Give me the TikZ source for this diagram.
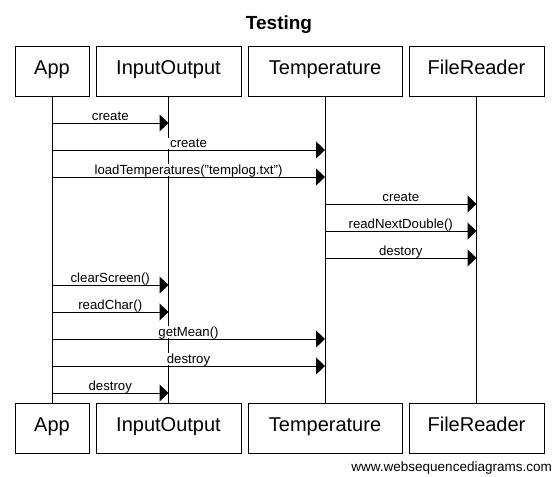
\documentclass[tikz,border=0pt]{standalone}
\usepackage{fontspec}
\setmainfont{Liberation Sans}
\usetikzlibrary{arrows.meta}
\begin{document}
\begin{tikzpicture}[x=1pt,y=-1pt]
    \tikzstyle{obj}=[draw,line width=1pt,inner sep=0pt,minimum height=50pt,font=\fontsize{20}{24}\selectfont,text height=0.72em,text depth=0.15em]
    \tikzstyle{life}=[line width=1pt]
    \tikzstyle{msg}=[line width=1pt,-{Triangle[length=9pt,width=17pt]}]
    \tikzstyle{lbl}=[anchor=base,yshift=2.5pt,fill=white,inner xsep=2.5pt,inner ysep=1pt,text depth=0pt,font=\fontsize{13.2}{15}\selectfont]
    \useasboundingbox (0,0) rectangle (556,476);
    \node[anchor=base,inner sep=0pt,font=\bfseries\fontsize{19}{22}\selectfont] (title) at (279,30) {Testing};
    \node[obj,minimum width=74pt] (appT) at (52,72) {App};
    \node[obj,minimum width=145pt] (ioT) at (168.5,72) {InputOutput};
    \node[obj,minimum width=154pt] (tempT) at (325,72) {Temperature};
    \node[obj,minimum width=135pt] (frT) at (476.5,72) {FileReader};
    \node[obj,minimum width=74pt] (appB) at (52,428.5) {App};
    \node[obj,minimum width=145pt] (ioB) at (168.5,428.5) {InputOutput};
    \node[obj,minimum width=154pt] (tempB) at (325,428.5) {Temperature};
    \node[obj,minimum width=135pt] (frB) at (476.5,428.5) {FileReader};
    \node[anchor=base east,inner sep=0pt,font=\fontsize{13.5}{16}\selectfont] (wsd) at (552,471) {www.websequencediagrams.com};
    \draw[life] (appT) -- (appB);
    \draw[life] (ioT) -- (ioB);
    \draw[life] (tempT) -- (tempB);
    \draw[life] (frT) -- (frB);
    \coordinate (r1) at (0,123);
    \coordinate (r2) at (0,150);
    \coordinate (r3) at (0,177);
    \coordinate (r4) at (0,204);
    \coordinate (r5) at (0,231);
    \coordinate (r6) at (0,258);
    \coordinate (r7) at (0,285);
    \coordinate (r8) at (0,312);
    \coordinate (r9) at (0,339);
    \coordinate (r10) at (0,366);
    \coordinate (r11) at (0,393);
    \draw[msg] (appT |- r1) -- (ioT |- r1) node[lbl,midway] {create};
    \draw[msg] (appT |- r2) -- (tempT |- r2) node[lbl,midway] {create};
    \draw[msg] (appT |- r3) -- (tempT |- r3) node[lbl,midway] {loadTemperatures("templog.txt")};
    \draw[msg] (tempT |- r4) -- (frT |- r4) node[lbl,midway] {create};
    \draw[msg] (tempT |- r5) -- (frT |- r5) node[lbl,midway] {readNextDouble()};
    \draw[msg] (tempT |- r6) -- (frT |- r6) node[lbl,midway] {destory};
    \draw[msg] (appT |- r7) -- (ioT |- r7) node[lbl,midway] {clearScreen()};
    \draw[msg] (appT |- r8) -- (ioT |- r8) node[lbl,midway] {readChar()};
    \draw[msg] (appT |- r9) -- (tempT |- r9) node[lbl,midway] {getMean()};
    \draw[msg] (appT |- r10) -- (tempT |- r10) node[lbl,midway] {destroy};
    \draw[msg] (appT |- r11) -- (ioT |- r11) node[lbl,midway] {destroy};
\end{tikzpicture}
\end{document}
